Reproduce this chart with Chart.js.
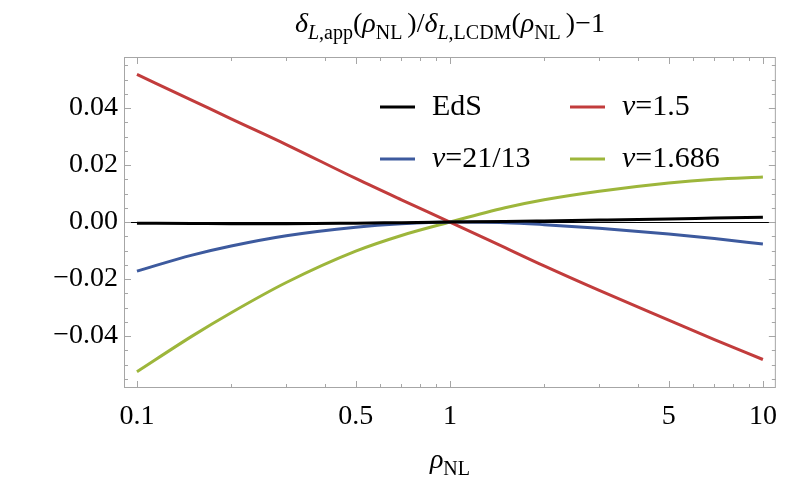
<!DOCTYPE html>
<html>
<head>
<meta charset="utf-8">
<script src="https://cdn.jsdelivr.net/npm/chart.js@4/dist/chart.umd.min.js"></script>
<style>
  body { margin: 0; background: #fff; }
  canvas { display: block; }
</style>
</head>
<body>
<canvas id="ratioChart" width="789" height="484"></canvas>
<script>
// values
const xValues = [0.1, 0.15, 0.2, 0.3, 0.5, 0.7, 1, 1.5, 2, 3, 5, 7, 10];
const edsValues = [-0.0004, -0.0005, -0.0006, -0.0006, -0.0004, -0.0002, 0, 0.0002, 0.0004, 0.0007, 0.0011, 0.0014, 0.0017];
const nu15Values = [0.0518, 0.0427, 0.0362, 0.0272, 0.0153, 0.0078, 0, -0.0090, -0.0154, -0.0240, -0.0344, -0.0412, -0.0482];
const nu2113Values = [-0.0172, -0.0116, -0.0084, -0.0048, -0.0018, -0.0006, 0, -0.0002, -0.0009, -0.0022, -0.0042, -0.0058, -0.0077];
const nu1686Values = [-0.0525, -0.0400, -0.0318, -0.0212, -0.0102, -0.0047, 0, 0.0050, 0.0078, 0.0108, 0.0137, 0.0150, 0.0158];
const seriesLabels = ['EdS', 'ν=1.5', 'ν=21/13', 'ν=1.686'];
const seriesColors = ['#000000', '#c23c3c', '#3d5a9e', '#9db63b'];
const xTickValues = [0.1, 0.5, 1, 5, 10];
const yTickValues = [-0.04, -0.02, 0, 0.02, 0.04];

const serif = '"Liberation Serif", "DejaVu Serif", serif';
const frameColor = '#a6a6a6';

const xMinor = [];
[0.1, 1].forEach(d => { for (let k = 1; k <= 9; k++) xMinor.push(+(d * k).toFixed(3)); });
xMinor.push(10);
const yMinor = [];
for (let v = -55; v <= 55; v += 5) yMinor.push(v / 1000);

function drawRich(ctx, parts, x, y, size) {
    const subSize = Math.round(size * 0.7);
    const fontOf = p => (p.italic ? 'italic ' : '') + (p.sub ? subSize : size) + 'px ' + serif;
    let w = 0;
    parts.forEach(p => { ctx.font = fontOf(p); w += ctx.measureText(p.t).width; });
    let cx = x - w / 2;
    ctx.textAlign = 'left';
    ctx.textBaseline = 'alphabetic';
    parts.forEach(p => {
        ctx.font = fontOf(p);
        ctx.fillText(p.t, cx, p.sub ? y + size * 0.25 : y);
        cx += ctx.measureText(p.t).width;
    });
}

const decorations = {
    id: 'decorations',
    beforeDatasetsDraw(chart) {
        const ctx = chart.ctx;
        const a = chart.chartArea;
        const y0 = chart.scales.y.getPixelForValue(0);
        ctx.save();
        ctx.strokeStyle = '#000';
        ctx.lineWidth = 1;
        ctx.beginPath();
        ctx.moveTo(a.left, Math.round(y0) + 0.5);
        ctx.lineTo(a.right, Math.round(y0) + 0.5);
        ctx.stroke();
        ctx.restore();
    },
    afterDraw(chart) {
        const ctx = chart.ctx;
        const a = chart.chartArea;
        const xs = chart.scales.x, ys = chart.scales.y;
        ctx.save();
        // frame
        ctx.strokeStyle = frameColor;
        ctx.lineWidth = 1;
        ctx.strokeRect(a.left + 0.5, a.top + 0.5, a.right - a.left - 1, a.bottom - a.top - 1);
        // ticks pointing inward
        ctx.beginPath();
        xMinor.forEach(v => {
            const px = Math.round(xs.getPixelForValue(v)) + 0.5;
            const len = xTickValues.includes(v) ? 7 : 4;
            ctx.moveTo(px, a.bottom); ctx.lineTo(px, a.bottom - len);
            ctx.moveTo(px, a.top); ctx.lineTo(px, a.top + len);
        });
        yMinor.forEach(v => {
            const py = Math.round(ys.getPixelForValue(v)) + 0.5;
            const len = yTickValues.some(t => Math.abs(t - v) < 1e-9) ? 7 : 4;
            ctx.moveTo(a.left, py); ctx.lineTo(a.left + len, py);
            ctx.moveTo(a.right, py); ctx.lineTo(a.right - len, py);
        });
        ctx.stroke();

        // title
        ctx.fillStyle = '#000';
        drawRich(ctx, [
            { t: 'δ', italic: true }, { t: 'L', italic: true, sub: true }, { t: ',app', sub: true },
            { t: '(' }, { t: 'ρ', italic: true }, { t: 'NL ', sub: true }, { t: ')/' },
            { t: 'δ', italic: true }, { t: 'L', italic: true, sub: true }, { t: ',LCDM', sub: true },
            { t: '(' }, { t: 'ρ', italic: true }, { t: 'NL ', sub: true }, { t: ')−1' }
        ], (a.left + a.right) / 2, 32, 28);

        // x axis title
        drawRich(ctx, [{ t: 'ρ', italic: true }, { t: 'NL', sub: true }], (a.left + a.right) / 2, 468, 28);

        // legend, two columns
        const cols = [380, 570];
        const rows = [107, 159];
        chart.data.datasets.forEach((ds, i) => {
            const lx = cols[i % 2], ly = rows[Math.floor(i / 2)];
            ctx.strokeStyle = ds.borderColor;
            ctx.lineWidth = 3;
            ctx.beginPath();
            ctx.moveTo(lx, ly); ctx.lineTo(lx + 35, ly);
            ctx.stroke();
            ctx.fillStyle = '#000';
            ctx.textAlign = 'left';
            ctx.textBaseline = 'middle';
            let tx = lx + 52;
            let text = ds.label;
            if (text.startsWith('ν')) {
                ctx.font = 'italic 30px ' + serif;
                ctx.fillText('ν', tx, ly);
                tx += ctx.measureText('ν').width;
                text = text.slice(1);
            }
            ctx.font = '30px ' + serif;
            ctx.fillText(text, tx, ly);
        });
        ctx.restore();
    }
};

const seriesValues = [edsValues, nu15Values, nu2113Values, nu1686Values];

const ctx = document.getElementById('ratioChart').getContext('2d');
const ratioChart = new Chart(ctx, {
    type: 'line',
    data: {
        datasets: seriesValues.map((vals, i) => ({
            label: seriesLabels[i],
            data: xValues.map((x, j) => ({ x: x, y: vals[j] })),
            borderColor: seriesColors[i],
            borderWidth: 3,
            pointRadius: 0,
            cubicInterpolationMode: 'monotone',
            fill: false
        }))
    },
    options: {
        responsive: false,
        animation: false,
        layout: { padding: { top: 57, right: 5, left: 0, bottom: 0 } },
        plugins: {
            legend: { display: false },
            title: { display: false },
            tooltip: { enabled: false }
        },
        scales: {
            x: {
                type: 'logarithmic',
                min: 1 / 11,
                max: 11,
                afterBuildTicks: s => { s.ticks = xTickValues.map(v => ({ value: v })); },
                afterFit: s => { s.height = 96; },
                grid: { display: false, drawTicks: false },
                border: { display: false },
                ticks: {
                    autoSkip: false,
                    maxRotation: 0,
                    padding: 12,
                    color: '#000',
                    font: { family: serif, size: 28 },
                    callback: v => String(v)
                }
            },
            y: {
                min: -0.0582,
                max: 0.0579,
                afterBuildTicks: s => { s.ticks = yTickValues.map(v => ({ value: v })); },
                afterFit: s => { s.width = 124; },
                grid: { display: false, drawTicks: false },
                border: { display: false },
                ticks: {
                    padding: 6,
                    color: '#000',
                    font: { family: serif, size: 28 },
                    callback: v => (v < 0 ? '−' : '') + Math.abs(v).toFixed(2)
                }
            }
        }
    },
    plugins: [decorations]
});
</script>
</body>
</html>
